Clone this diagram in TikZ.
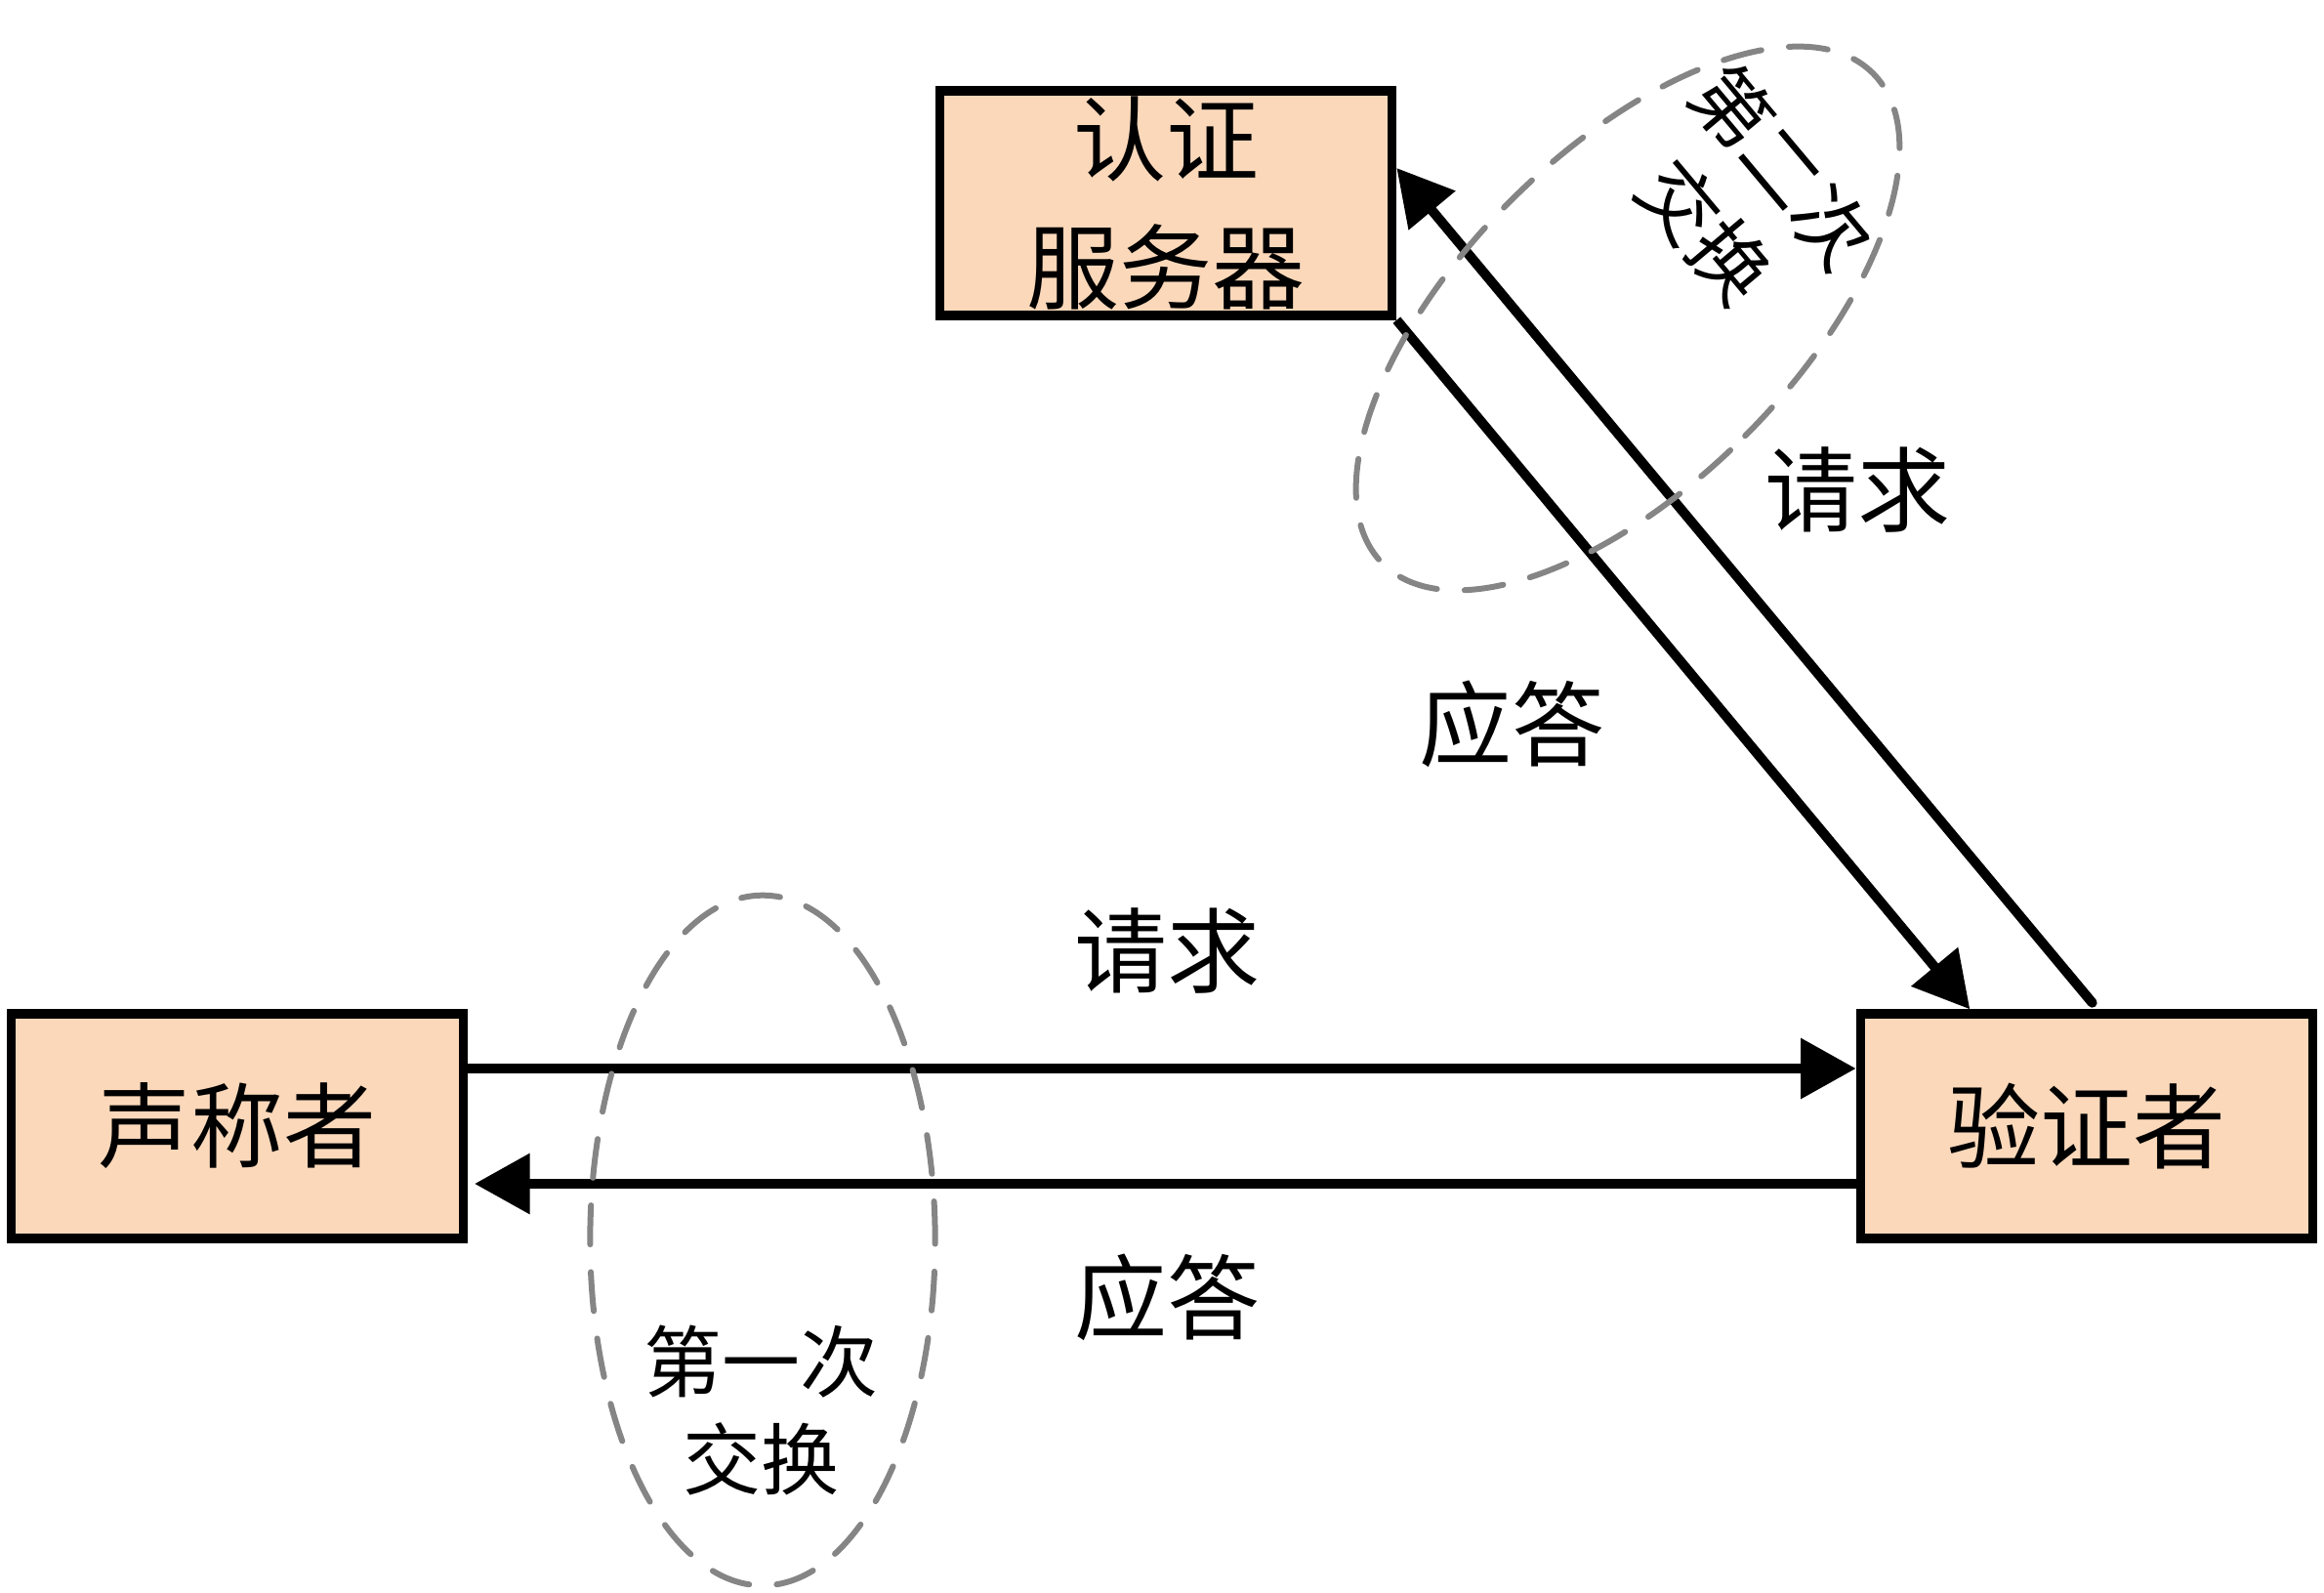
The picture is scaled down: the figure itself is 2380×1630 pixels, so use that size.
\documentclass[tikz,border=0pt]{standalone}
\usepackage{fontspec}
\setmainfont{Noto Sans CJK SC}
\usetikzlibrary{arrows.meta,calc}
\definecolor{boxfill}{HTML}{FBD8BA}
\definecolor{ringgray}{HTML}{858585}
\begin{document}
\begin{tikzpicture}[x=0.3pt,y=-0.3pt,
  party/.style={draw=black,line width=2.8pt,fill=boxfill,minimum width=139pt,minimum height=69pt,inner sep=0pt,font=\fontsize{28.5}{39.5}\selectfont,align=center},
  flow/.style={line width=3pt,-{Triangle[length=17pt,width=18pt]}},
  plainline/.style={line width=3pt,line cap=round},
  ring/.style={draw=ringgray,line width=1.8pt,line cap=round,dash pattern=on 12pt off 8.5pt},
  lbl/.style={font=\fontsize{28.5}{39.5}\selectfont,inner sep=0pt},
  note/.style={font=\fontsize{24}{30}\selectfont,align=center,inner sep=0pt}]
\useasboundingbox (0,0) rectangle (2380,1630);
% boxes
\node[party] (A) at (243,1153) {声称者};
\node[party] (V) at (2137,1153) {验证者};
\node[party] (S) at (1194,208) {认证\\服务器};
% horizontal exchange
\draw[flow] ([yshift=17.7pt]A.east) -- ([yshift=17.7pt]V.west);
\draw[flow] ([yshift=-17.7pt]V.west) -- ([yshift=-17.7pt,xshift=2pt]A.east);
% diagonal exchange
\draw[flow] (S.south east) -- ([xshift=35pt]V.north west);
\draw[plainline,-{Triangle[length=17pt,width=18pt]}] ([xshift=72.6pt,yshift=2pt]V.north west) -- ([yshift=10.8pt]S.east);
% labels
\node[lbl] (L1) at (1195,973) {请求};
\node[lbl] (L2) at (1195,1328) {应答};
\node[lbl] (L3) at (1902,501) {请求};
\node[lbl] (L4) at (1548,741) {应答};
% ellipses
\coordinate (E1) at (781,1270);
\draw[ring] (E1) ellipse [x radius=53pt, y radius=106pt];
\coordinate (E2) at (1667,326);
\draw[ring,rotate around={-45:(E2)}] (E2) ellipse [x radius=51pt, y radius=106.5pt];
\node[note] (N1) at (779,1444) {第一次\\交换};
\node[note,rotate=-50,font=\fontsize{24}{31}\selectfont] (N2) at (1786,204) {第二次\\交换};
\end{tikzpicture}
\end{document}
